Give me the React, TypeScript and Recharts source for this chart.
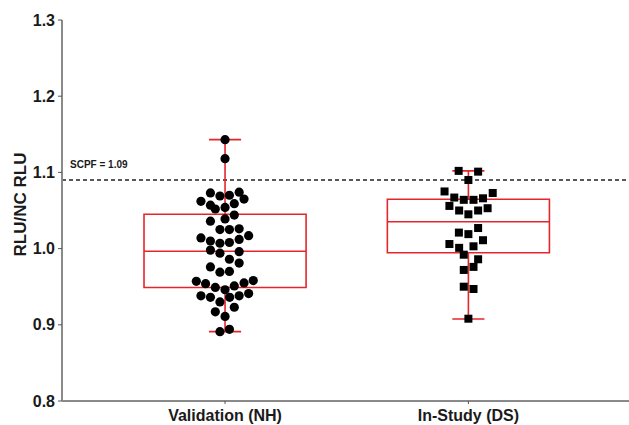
import {
  ComposedChart,
  ReferenceArea,
  ReferenceLine,
  Scatter,
  XAxis,
  YAxis,
} from "recharts";

const GROUPS = ["Validation (NH)", "In-Study (DS)"];
const GROUP_POS = [1, 2];

// box stats: min, q1, median, q3, max
const BOX_STATS = [
  [0.891, 0.949, 0.9965, 1.045, 1.143],
  [0.9076, 0.9946, 1.0353, 1.0647, 1.102],
];

const SCPF = 1.09;
const Y_TICKS = [0.8, 0.9, 1.0, 1.1, 1.2, 1.3];

// beeswarm offsets (category units) and values
const NH_OFFSET = [
  0, 0, -0.06, -0.021, 0.018, 0.058, 0.078, -0.099, -0.06, -0.04, 0, 0.038,
  0.038, 0, -0.06, -0.021, 0.018, 0.058, -0.099, -0.06, -0.021, 0.018, 0.058,
  0.097, -0.06, -0.021, 0.058, 0.018, 0.058, -0.06, -0.021, 0.018, -0.118,
  -0.08, -0.04, 0, 0.038, 0.078, 0.116, -0.099, -0.06, 0.019, 0.058, 0.097,
  -0.021, -0.04, 0.038, 0, -0.021, 0.018,
];
const NH_VALUES = [
  1.143, 1.118, 1.073, 1.069, 1.07, 1.074, 1.065, 1.062, 1.057, 1.052, 1.054,
  1.059, 1.044, 1.039, 1.036, 1.025, 1.025, 1.026, 1.014, 1.01, 1.007, 1.008,
  1.012, 1.017, 0.998, 0.994, 0.996, 0.986, 0.981, 0.976, 0.969, 0.97, 0.957,
  0.954, 0.949, 0.946, 0.951, 0.955, 0.958, 0.938, 0.936, 0.936, 0.938, 0.941,
  0.93, 0.917, 0.923, 0.911, 0.891, 0.894,
];

const DS_OFFSET = [
  -0.04, 0.04, 0, -0.098, -0.058, -0.019, 0.021, 0.06, 0.1, -0.078, -0.038, 0,
  0.04, 0.079, -0.039, 0, 0.04, 0.06, -0.078, -0.038, 0.021, -0.019, 0.04,
  -0.019, 0.021, -0.019, 0.021, 0,
];
const DS_VALUES = [
  1.102, 1.101, 1.09, 1.075, 1.067, 1.064, 1.064, 1.066, 1.073, 1.056, 1.05,
  1.045, 1.05, 1.053, 1.021, 1.019, 1.027, 1.011, 1.006, 1.001, 1.003, 0.992,
  0.986, 0.972, 0.976, 0.95, 0.947, 0.908,
];

const BOX_HALF = 0.333;
const CAP_HALF = 0.066;
const RED = "#e4262c";
const AXIS = "#8a8a8a";
const FONT = "'Liberation Sans', Arial, sans-serif";

const nhData = NH_VALUES.map((v, i) => ({ x: GROUP_POS[0] + NH_OFFSET[i], y: v }));
const dsData = DS_VALUES.map((v, i) => ({ x: GROUP_POS[1] + DS_OFFSET[i], y: v }));

const Dot = (props: any) => (
  <circle cx={props.cx} cy={props.cy} r={4.6} fill="#000" />
);
const Sq = (props: any) => (
  <rect x={props.cx - 4} y={props.cy - 4} width={8} height={8} fill="#000" />
);

export default function App() {
  return (
    <div style={{ position: "absolute", left: 0, top: 0, width: 629, height: 425, background: "#fff" }}>
      <ComposedChart
        width={629}
        height={425}
        margin={{ top: 20, right: 0, bottom: 0, left: 0 }}
      >
        <XAxis
          type="number"
          dataKey="x"
          domain={[0.33, 2.66]}
          ticks={GROUP_POS}
          tickFormatter={(v: number) => GROUPS[GROUP_POS.indexOf(v)] ?? ""}
          allowDataOverflow
          height={24}
          tickSize={3}
          tickMargin={6}
          axisLine={{ stroke: AXIS, strokeWidth: 2 }}
          tickLine={{ stroke: "#555" }}
          tick={{ fontSize: 16, fontWeight: "bold", fill: "#1a1a1a", fontFamily: FONT }}
        />
        <YAxis
          type="number"
          dataKey="y"
          domain={[0.8, 1.3]}
          ticks={Y_TICKS}
          tickFormatter={(v: number) => v.toFixed(1)}
          allowDataOverflow
          width={62}
          tickSize={4}
          tickMargin={3}
          axisLine={{ stroke: AXIS, strokeWidth: 2 }}
          tickLine={{ stroke: "#555" }}
          tick={{ fontSize: 16, fontWeight: "bold", fill: "#1a1a1a", fontFamily: FONT }}
          label={{
            content: ({ viewBox }: any) => (
              <text
                x={viewBox.x + 20}
                y={viewBox.y + viewBox.height / 2 - 6}
                transform={`rotate(-90 ${viewBox.x + 20} ${viewBox.y + viewBox.height / 2 - 6})`}
                textAnchor="middle"
                dominantBaseline="central"
                fontSize={17}
                fontWeight="bold"
                fontFamily={FONT}
                fill="#1a1a1a"
              >
                RLU/NC RLU
              </text>
            ),
          }}
        />
        <ReferenceLine
          y={SCPF}
          stroke="#222"
          strokeWidth={1.5}
          strokeDasharray="4 3"
          label={{
            content: ({ viewBox }: any) => (
              <text
                x={viewBox.x + 8}
                y={viewBox.y - 16}
                dominantBaseline="central"
                fontSize={10}
                fontWeight="bold"
                fontFamily={FONT}
                fill="#1a1a1a"
              >
                {`SCPF = ${SCPF.toFixed(2)}`}
              </text>
            ),
          }}
        />
        {BOX_STATS.map(([mn, q1, med, q3, mx], i) => {
          const c = GROUP_POS[i];
          return [
            <ReferenceArea
              key={`box${i}`}
              x1={c - BOX_HALF}
              x2={c + BOX_HALF}
              y1={q1}
              y2={q3}
              fill="none"
              fillOpacity={0}
              stroke={RED}
              strokeWidth={1.6}
            />,
            <ReferenceLine
              key={`med${i}`}
              segment={[{ x: c - BOX_HALF, y: med }, { x: c + BOX_HALF, y: med }]}
              stroke={RED}
              strokeWidth={1.6}
            />,
            <ReferenceLine
              key={`wlo${i}`}
              segment={[{ x: c, y: mn }, { x: c, y: q1 }]}
              stroke={RED}
              strokeWidth={1.6}
            />,
            <ReferenceLine
              key={`whi${i}`}
              segment={[{ x: c, y: q3 }, { x: c, y: mx }]}
              stroke={RED}
              strokeWidth={1.6}
            />,
            <ReferenceLine
              key={`clo${i}`}
              segment={[{ x: c - CAP_HALF, y: mn }, { x: c + CAP_HALF, y: mn }]}
              stroke={RED}
              strokeWidth={1.6}
            />,
            <ReferenceLine
              key={`chi${i}`}
              segment={[{ x: c - CAP_HALF, y: mx }, { x: c + CAP_HALF, y: mx }]}
              stroke={RED}
              strokeWidth={1.6}
            />,
          ];
        })}
        <Scatter data={nhData} shape={Dot} isAnimationActive={false} />
        <Scatter data={dsData} shape={Sq} isAnimationActive={false} />
      </ComposedChart>
    </div>
  );
}
